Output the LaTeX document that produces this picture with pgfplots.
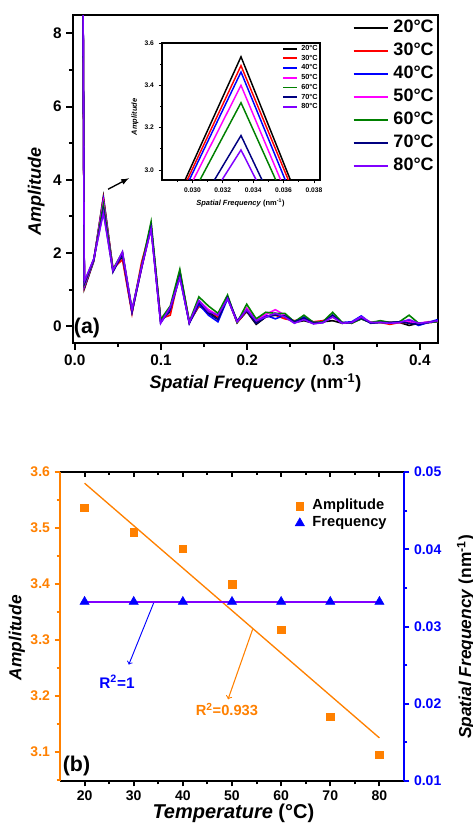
\documentclass[border=0pt]{standalone}
\usepackage{pgfplots}
\pgfplotsset{compat=1.18}
\usepackage{pgfplotstable}
\usepackage{fontspec}
\setmainfont{Liberation Sans}
\definecolor{cred}{RGB}{255,0,0}
\definecolor{cblue}{RGB}{0,0,255}
\definecolor{cmag}{RGB}{255,0,255}
\definecolor{cgreen}{RGB}{0,128,0}
\definecolor{cnavy}{RGB}{0,0,128}
\definecolor{cviolet}{RGB}{128,0,255}
\definecolor{corange}{RGB}{255,128,0}

\pgfplotstableread{
x      t20   t30   t40   t50   t60   t70   t80
0.0000 60    60    60    60    60    60    60
0.0111 1.02  1.05  1.08  1.12  1.15  1.18  1.22
0.0221 1.78  1.80  1.80  1.82  1.82  1.83  1.84
0.0332 3.535 3.493 3.463 3.400 3.318 3.163 3.095
0.0443 1.55  1.57  1.52  1.50  1.55  1.48  1.52
0.0553 1.90  1.82  1.95  2.00  2.02  1.98  2.03
0.0664 0.38  0.35  0.40  0.42  0.45  0.40  0.45
0.0775 1.60  1.75  1.62  1.58  1.65  1.60  1.62
0.0885 2.78  2.70  2.72  2.68  2.85  2.70  2.65
0.0996 0.15  0.20  0.10  0.12  0.18  0.10  0.08
0.1107 0.40  0.30  0.45  0.50  0.55  0.48  0.52
0.1218 1.50  1.45  1.35  1.40  1.55  1.38  1.32
0.1328 0.10  0.12  0.08  0.10  0.12  0.08  0.10
0.1439 0.55  0.55  0.60  0.70  0.80  0.65  0.70
0.1550 0.40  0.45  0.30  0.45  0.55  0.35  0.40
0.1660 0.20  0.25  0.12  0.30  0.35  0.18  0.30
0.1771 0.80  0.78  0.75  0.80  0.85  0.78  0.75
0.1882 0.10  0.10  0.12  0.12  0.10  0.15  0.12
0.1993 0.40  0.42  0.45  0.50  0.60  0.42  0.45
0.2103 0.05  0.10  0.15  0.18  0.20  0.08  0.15
0.2214 0.25  0.28  0.30  0.32  0.38  0.25  0.25
0.2325 0.35  0.30  0.20  0.45  0.35  0.30  0.35
0.2435 0.25  0.20  0.30  0.30  0.35  0.28  0.25
0.2546 0.10  0.15  0.12  0.10  0.12  0.12  0.08
0.2657 0.15  0.20  0.25  0.20  0.30  0.22  0.18
0.2768 0.08  0.12  0.10  0.08  0.10  0.08  0.06
0.2878 0.12  0.15  0.10  0.12  0.12  0.10  0.10
0.2989 0.15  0.25  0.30  0.28  0.38  0.30  0.25
0.3100 0.08  0.10  0.10  0.08  0.10  0.08  0.08
0.3210 0.10  0.08  0.12  0.10  0.08  0.10  0.10
0.3321 0.20  0.22  0.28  0.25  0.20  0.22  0.25
0.3432 0.10  0.10  0.08  0.10  0.10  0.08  0.10
0.3543 0.12  0.10  0.12  0.12  0.15  0.10  0.10
0.3653 0.10  0.05  0.08  0.10  0.10  0.10  0.08
0.3764 0.10  0.10  0.12  0.10  0.12  0.12  0.10
0.3875 0.02  0.10  0.15  0.12  0.30  0.08  0.18
0.3985 0.08  0.05  0.02  0.08  0.08  0.05  0.08
0.4096 0.10  0.10  0.10  0.12  0.10  0.10  0.10
0.4207 0.12  0.12  0.18  0.12  0.12  0.15  0.15
}\fft

\newcommand{\allseries}{%
\addplot[black] table[x=x,y=t20]{\fft}; \addlegendentry{20°C}
\addplot[cred] table[x=x,y=t30]{\fft}; \addlegendentry{30°C}
\addplot[cblue] table[x=x,y=t40]{\fft}; \addlegendentry{40°C}
\addplot[cmag] table[x=x,y=t50]{\fft}; \addlegendentry{50°C}
\addplot[cgreen] table[x=x,y=t60]{\fft}; \addlegendentry{60°C}
\addplot[cnavy] table[x=x,y=t70]{\fft}; \addlegendentry{70°C}
\addplot[cviolet] table[x=x,y=t80]{\fft}; \addlegendentry{80°C}
}

\begin{document}
\begin{tikzpicture}
\useasboundingbox (0pt,0pt) rectangle (354.75pt,-621pt);
% ================= panel (a) =================
\begin{axis}[
  at={(54.75pt,-257.25pt)}, anchor=south west,
  scale only axis, width=273.75pt, height=246pt,
  xmin=-0.002, xmax=0.421, ymin=-0.46, ymax=8.5,
  scaled ticks=false,
  axis line style={line width=2pt},
  xtick={0,0.1,0.2,0.3,0.4}, xticklabels={0.0,0.1,0.2,0.3,0.4},
  minor xtick={0.05,0.15,0.25,0.35},
  ytick={0,2,4,6,8}, yticklabels={0,2,4,6,8},
  minor ytick={1,3,5,7},
  xtick pos=bottom, ytick pos=left, tick align=outside,
  major tick length=5pt, minor tick length=3pt,
  tick style={line width=1.5pt, black},
  ticklabel style={font=\bfseries\fontsize{11.5}{11.5}\selectfont},
  /pgf/number format/assume math mode=true,
  xlabel={\textbf{\textit{Spatial Frequency} (nm\textsuperscript{-1})}},
  ylabel={\textbf{\textit{Amplitude}}},
  every axis x label/.style={at={(axis description cs:0.5,-0.122)}, anchor=center, font=\bfseries\fontsize{13.5}{13.5}\selectfont},
  every axis y label/.style={at={(axis description cs:-0.101,0.463)}, anchor=center, rotate=90, font=\bfseries\fontsize{13.5}{13.5}\selectfont},
  legend style={at={(0.989,0.988)}, anchor=north east, draw=none, fill=none, inner sep=0pt,
     font=\bfseries\fontsize{13.5}{13.5}\selectfont, row sep=4.3pt, column sep=3.75pt,
     nodes={inner sep=0pt, text height=10pt, text depth=3pt}},
  legend cell align=left,
  legend image code/.code={\draw[#1, line width=1.2pt] (0pt,0pt) -- (25.5pt,0pt);},
  every axis plot/.append style={line width=1.2pt},
]
\allseries
\node[font=\bfseries\fontsize{16}{16}\selectfont] at (rel axis cs:0.0384,0.047) {(a)};
\draw[-latex, line width=1pt] (axis cs:0.0386,3.74) -- (axis cs:0.0629,4.04);
\end{axis}
% ================= inset =================
\begin{axis}[
  at={(121.5pt,-135pt)}, anchor=south west,
  scale only axis, width=118.5pt, height=102.75pt,
  xmin=0.028, xmax=0.0384, ymin=2.953, ymax=3.6,
  scaled ticks=false,
  restrict x to domain=0.02:0.05,
  axis background/.style={fill=white},
  axis line style={line width=0.8pt},
  xtick={0.030,0.032,0.034,0.036,0.038}, xticklabels={0.030,0.032,0.034,0.036,0.038},
  minor xtick={0.029,0.031,0.033,0.035,0.037},
  ytick={3.0,3.2,3.4,3.6}, yticklabels={3.0,3.2,3.4,3.6},
  minor ytick={3.1,3.3,3.5},
  xtick pos=bottom, ytick pos=left, tick align=outside,
  major tick length=2.5pt, minor tick length=1.5pt,
  tick style={line width=0.6pt, black},
  ticklabel style={font=\bfseries\fontsize{5}{5}\selectfont},
  xlabel={\textbf{\textit{Spatial Frequency} (nm\textsuperscript{-1})}},
  ylabel={\textbf{\textit{Amplitude}}},
  every axis x label/.style={at={(axis description cs:0.497,-0.168)}, anchor=center, font=\bfseries\fontsize{5.6}{5.6}\selectfont},
  every axis y label/.style={at={(axis description cs:-0.171,0.46)}, anchor=center, rotate=90, font=\bfseries\fontsize{5.6}{5.6}\selectfont},
  legend style={at={(0.987,0.987)}, anchor=north east, draw=none, fill=none, inner sep=0pt,
     font=\bfseries\fontsize{5.5}{5.5}\selectfont, row sep=2pt, column sep=2.25pt,
     nodes={inner sep=0pt, text height=4pt, text depth=1.3pt}},
  legend cell align=left,
  legend image code/.code={\draw[#1, line width=1.4pt] (0pt,0pt) -- (10.5pt,0pt);},
  every axis plot/.append style={line width=1.1pt},
]
\allseries
\end{axis}
% ================= panel (b) : left axis =================
\begin{axis}[
  at={(45pt,-585.75pt)}, anchor=south west,
  scale only axis, width=258pt, height=231.75pt,
  xmin=15, xmax=85, ymin=3.048, ymax=3.6,
  scaled ticks=false,
  separate axis lines,
  x axis line style={line width=2pt, black, -},
  y axis line style={line width=2pt, corange, -},
  xtick={20,30,40,50,60,70,80}, xticklabels={20,30,40,50,60,70,80},
  minor xtick={25,35,45,55,65,75},
  ytick={3.1,3.2,3.3,3.4,3.5,3.6}, yticklabels={3.1,3.2,3.3,3.4,3.5,3.6},
  minor ytick={3.05,3.15,3.25,3.35,3.45,3.55},
  xtick pos=bottom, ytick pos=left, tick align=outside,
  major tick length=4pt, minor tick length=2.5pt,
  x tick style={line width=1.5pt, black},
  y tick style={line width=1.5pt, corange},
  ticklabel style={font=\bfseries\fontsize{10.5}{10.5}\selectfont},
  xticklabel style={black}, yticklabel style={corange},
  xlabel={\textbf{\textit{Temperature} (°C)}},
  ylabel={\textbf{\textit{Amplitude}}},
  every axis x label/.style={at={(axis description cs:0.504,-0.1036)}, anchor=center, font=\bfseries\fontsize{15}{15}\selectfont},
  every axis y label/.style={at={(axis description cs:-0.125,0.464)}, anchor=center, rotate=90, font=\bfseries\fontsize{13}{13}\selectfont},
]
\addplot[only marks, mark=square*, mark size=2.9pt, corange] coordinates {(20,3.536) (30,3.493) (40,3.463) (50,3.400) (60,3.318) (70,3.163) (80,3.095)};
\addplot[corange, line width=1pt] coordinates {(20,3.580) (80,3.125)};
\draw[->, corange, line width=0.8pt] (axis cs:54.2,3.319) -- (axis cs:49.2,3.194);
\node[corange, font=\bfseries\fontsize{11}{11}\selectfont] at (axis cs:48.96,3.176) {R\textsuperscript{2}=0.933};
\draw[->, cblue, line width=0.7pt] (axis cs:34.1,3.367) -- (axis cs:29.0,3.256);
\node[cblue, font=\bfseries\fontsize{11.5}{11.5}\selectfont] at (axis cs:26.6,3.226) {R\textsuperscript{2}=1};
\node[font=\bfseries\fontsize{16}{16}\selectfont] at (rel axis cs:0.048,0.0485) {(b)};
\end{axis}
% ================= panel (b) : right axis =================
\begin{axis}[
  at={(45pt,-585.75pt)}, anchor=south west,
  scale only axis, width=258pt, height=231.75pt,
  xmin=15, xmax=85, ymin=0.01, ymax=0.05,
  scaled ticks=false,
  axis x line=none, axis y line*=right,
  y axis line style={line width=2pt, cblue, -},
  ytick={0.01,0.02,0.03,0.04,0.05}, yticklabels={0.01,0.02,0.03,0.04,0.05},
  minor ytick={0.015,0.025,0.035,0.045},
  tick align=outside,
  major tick length=4pt, minor tick length=2.5pt,
  y tick style={line width=1.5pt, cblue},
  ticklabel style={font=\bfseries\fontsize{10.5}{10.5}\selectfont},
  yticklabel style={cblue},
  ylabel={\textbf{\textit{Spatial Frequency} (nm\textsuperscript{-1})}},
  every axis y label/.style={at={(axis description cs:1.18,0.466)}, anchor=center, rotate=90, font=\bfseries\fontsize{13}{13}\selectfont},
  legend style={at={(0.683,0.913)}, anchor=north west, draw=none, fill=none, inner sep=0pt,
     font=\bfseries\fontsize{11}{11}\selectfont, row sep=2.25pt, column sep=6pt,
     nodes={inner sep=0pt, text height=8pt, text depth=2.5pt}},
  legend cell align=left,
  legend image code/.code={\draw[#1] plot coordinates {(0pt,0pt)};},
]
\addlegendimage{only marks, mark=square*, mark size=2.9pt, corange}
\addlegendentry{Amplitude}
\addplot[cviolet, line width=1.2pt, forget plot] coordinates {(20,0.0332) (80,0.0332)};
\addplot[only marks, mark=triangle*, mark size=4pt, cblue] coordinates {(20,0.0332) (30,0.0332) (40,0.0332) (50,0.0332) (60,0.0332) (70,0.0332) (80,0.0332)};
\addlegendentry{Frequency}
\end{axis}
% ================= panel (b) : top ticks =================
\begin{axis}[
  at={(45pt,-585.75pt)}, anchor=south west,
  scale only axis, width=258pt, height=231.75pt,
  xmin=15, xmax=85, ymin=0, ymax=1,
  axis x line*=top, axis y line=none,
  x axis line style={draw=none},
  xtick={20,30,40,50,60,70,80}, xticklabels={},
  minor xtick={25,35,45,55,65,75},
  tick align=inside,
  major tick length=4pt, minor tick length=2.5pt,
  x tick style={line width=1.5pt, black},
]
\end{axis}
\end{tikzpicture}
\end{document}
